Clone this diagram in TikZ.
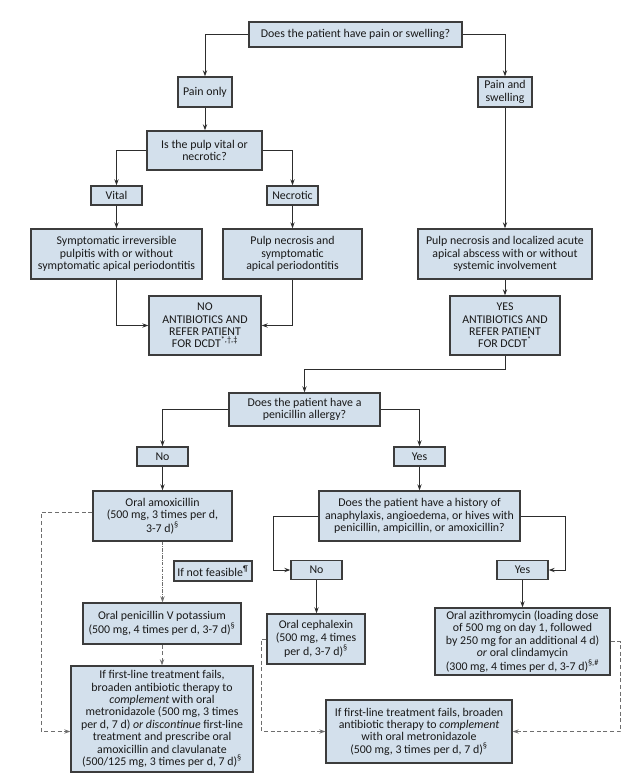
\documentclass[tikz,border=0pt]{standalone}
\usepackage{fontspec}
\setmainfont{Carlito}
\usetikzlibrary{arrows.meta}
\definecolor{boxfill}{RGB}{211,224,236}
\definecolor{boxline}{RGB}{60,60,60}
\definecolor{linec}{RGB}{45,45,45}
\definecolor{dashc}{RGB}{110,110,110}
\begin{document}
\begin{tikzpicture}[x=0.75pt,y=-0.75pt,
  box/.style={draw=boxline, fill=boxfill, line width=1pt, align=center, inner sep=0pt,
    text=black!90, font=\fontsize{8.9}{9.3}\selectfont},
  wh/.style 2 args={minimum width=#1*0.75pt, minimum height=#2*0.75pt},
  arr/.style={draw=linec, line width=0.7pt, -{Stealth[length=4.5pt,width=3.2pt]}},
  dsh/.style={draw=dashc, line width=0.75pt, dash pattern=on 3pt off 2pt, -{Stealth[length=4.5pt,width=3.2pt]}},
  dshdot/.style={draw=dashc, line width=0.75pt, dash pattern=on 2.5pt off 1pt on 0.6pt off 1pt, -{Stealth[length=4.5pt,width=3.2pt]}}]
\useasboundingbox (0,0) rectangle (636,773);

\node[box, wh={213}{25}] (q1) at (355.5,34.5) {Does the patient have pain or swelling?};
\node[box, wh={54}{30}] (painonly) at (205,92) {Pain only};
\node[box, wh={54}{30}] (painswell) at (505,92) {Pain and\\swelling};
\node[box, wh={115}{39}] (pulp) at (204.5,150.5) {Is the pulp vital or\\necrotic?};
\node[box, wh={51}{19}] (vital) at (116.5,195.5) {Vital};
\node[box, wh={51}{19}] (necrotic) at (292.5,195.5) {Necrotic};
\node[box, wh={171}{50}] (sympt) at (116.5,254) {Symptomatic irreversible\\pulpitis with or without\\symptomatic apical periodontitis};
\node[box, wh={139}{50}] (pnecr) at (292.5,254) {Pulp necrosis and\\symptomatic\\apical periodontitis};
\node[box, wh={174}{50}] (pnabs) at (505,254) {Pulp necrosis and localized acute\\apical abscess with or without\\systemic involvement};
\node[box, wh={112}{59}] (noab) at (205,325.5) {NO\\ANTIBIOTICS AND\\REFER PATIENT\\FOR DCDT\textsuperscript{*,†,‡}};
\node[box, wh={110}{59}] (yesab) at (505,325.5) {YES\\ANTIBIOTICS AND\\REFER PATIENT\\FOR DCDT\textsuperscript{*}};
\node[box, wh={151}{33}] (pen) at (304.5,409.5) {Does the patient have a\\penicillin allergy?};
\node[box, wh={51}{19}] (no1) at (162.5,456.5) {No};
\node[box, wh={51}{19}] (yes1) at (419.5,456.5) {Yes};
\node[box, wh={139}{50}] (amox) at (162.5,516) {Oral amoxicillin\\(500 mg, 3 times per d,\\3-7 d)\textsuperscript{§}};
\node[box, wh={201}{50}] (hist) at (419.5,516) {Does the patient have a history of\\anaphylaxis, angioedema, or hives with\\penicillin, ampicillin, or amoxicillin?};
\node[box, wh={78}{20}] (notfeas) at (213,571) {If not feasible\textsuperscript{¶}};
\node[box, wh={51}{19}] (no2) at (316.5,570) {No};
\node[box, wh={51}{19}] (yes2) at (522.5,570) {Yes};
\node[box, wh={158}{41}] (penv) at (162,623.5) {Oral penicillin V potassium\\(500 mg, 4 times per d, 3-7 d)\textsuperscript{§}};
\node[box, wh={98}{50}] (ceph) at (316,639) {Oral cephalexin\\(500 mg, 4 times\\per d, 3-7 d)\textsuperscript{§}};
\node[box, wh={175}{67}] (azi) at (522.5,641.5) {Oral azithromycin (loading dose\\of 500 mg on day 1, followed\\by 250 mg for an additional 4 d)\\\textit{or} oral clindamycin\\(300 mg, 4 times per d, 3-7 d)\textsuperscript{§,\#}};
\node[box, wh={182}{106}] (fl1) at (162,719) {If first-line treatment fails,\\broaden antibiotic therapy to\\\textit{complement} with oral\\metronidazole (500 mg, 3 times\\per d, 7 d) \textit{or discontinue} first-line\\treatment and prescribe oral\\amoxicillin and clavulanate\\(500/125 mg, 3 times per d, 7 d)\textsuperscript{§}};
\node[box, wh={186}{63}] (fl2) at (419,731.5) {If first-line treatment fails, broaden\\antibiotic therapy to \textit{complement}\\with oral metronidazole\\(500 mg, 3 times per d, 7 d)\textsuperscript{§}};

\draw[arr] (q1.west) -| (painonly.north);
\draw[arr] (q1.east) -| (painswell.north);
\draw[arr] (painonly.south) -- (pulp.north -| painonly.south);
\draw[arr] (pulp.west) -| (vital.north);
\draw[arr] (pulp.east) -| (necrotic.north);
\draw[arr] (vital.south) -- (sympt.north);
\draw[arr] (necrotic.south) -- (pnecr.north);
\draw[arr] (painswell.south) -- (pnabs.north);
\draw[arr] (sympt.south) |- (noab.west);
\draw[arr] (pnecr.south) |- (noab.east);
\draw[arr] (pnabs.south) -- (yesab.north);
\draw[arr] (yesab.south) -- ++(0,14) -| (pen.north);
\draw[arr] (pen.west) -| (no1.north);
\draw[arr] (pen.east) -| (yes1.north);
\draw[arr] (no1.south) -- (amox.north);
\draw[arr] (yes1.south) -- (hist.north);
\draw[arr] (hist.west) -- ++(-45,0) |- (no2.west);
\draw[arr] (hist.east) -- ++(45,0) |- (yes2.east);
\draw[arr] (no2.south) -- (ceph.north -| no2.south);
\draw[arr] (yes2.south) -- (azi.north);
\draw[dshdot] (amox.south) -- (penv.north -| amox.south);
\draw[dsh] (penv.south) -- (fl1.north);
\draw[dsh] ([yshift=3pt]amox.west) -- ++(-51,0) |- (fl1.west |- fl2.west);
\draw[dsh] (ceph.west) -- ++(-5,0) |- (fl2.west);
\draw[dsh] (azi.east) -- ++(10,0) |- (fl2.east);
\end{tikzpicture}
\end{document}
